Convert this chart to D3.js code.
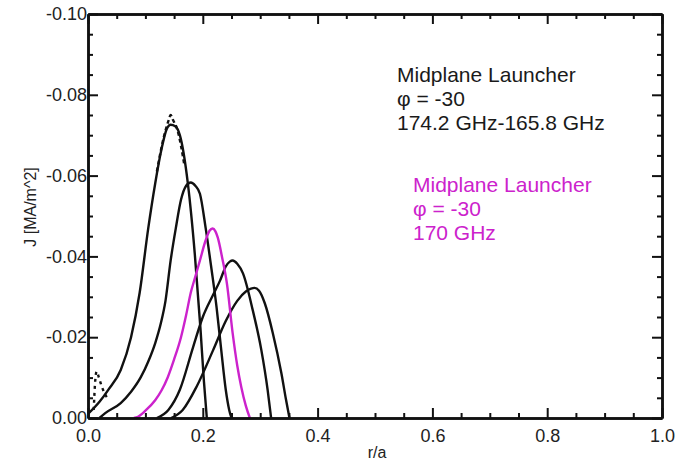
<!DOCTYPE html>
<meta charset="utf-8">
<style>
	body { margin: 0; background: #fff; font-family: "Liberation Sans", Arial, sans-serif; }
	.axis path, .axis line { fill: none; stroke: #111; }
	.axis path { stroke-width: 2.5; }
	.axis line { stroke-width: 2; }
	.axis text { fill: #222; font-size: 18px; font-family: "Liberation Sans", Arial, sans-serif; }
	.lbl { fill: #222; font-family: "Liberation Sans", Arial, sans-serif; }
</style>
<body>
<svg id="chart" width="681" height="462"></svg>

<script src="https://cdn.jsdelivr.net/npm/d3@7"></script>
<script>
	// r/a values and current density J [MA/m^2]
	var c1R = [0.000, 0.020, 0.035, 0.057, 0.075, 0.090, 0.105, 0.117, 0.128, 0.137, 0.144, 0.152, 0.160, 0.174, 0.186, 0.196, 0.202, 0.207];
	var c1J = [-0.0010, -0.0040, -0.0069, -0.0119, -0.0200, -0.0310, -0.0470, -0.0580, -0.0665, -0.0715, -0.0726, -0.0722, -0.0700, -0.0580, -0.0407, -0.0220, -0.0090, 0];

	var c2R = [0.020, 0.030, 0.057, 0.075, 0.092, 0.105, 0.117, 0.127, 0.135, 0.144, 0.153, 0.162, 0.171, 0.179, 0.187, 0.195, 0.205, 0.215, 0.224, 0.232, 0.240, 0.246, 0.250];
	var c2J = [0, -0.0012, -0.0037, -0.0065, -0.0101, -0.0140, -0.0185, -0.0235, -0.0290, -0.0390, -0.0470, -0.0540, -0.0575, -0.0583, -0.0575, -0.0555, -0.0470, -0.0370, -0.0274, -0.0170, -0.0070, -0.0020, 0];

	var c3R = [0.120, 0.140, 0.160, 0.183, 0.200, 0.218, 0.230, 0.240, 0.247, 0.252, 0.260, 0.270, 0.287, 0.302, 0.313, 0.319];
	var c3J = [0, -0.0020, -0.0070, -0.0175, -0.0250, -0.0305, -0.0340, -0.0375, -0.0387, -0.0390, -0.0382, -0.0358, -0.0267, -0.0168, -0.0069, 0];

	var c4R = [0.145, 0.165, 0.190, 0.218, 0.240, 0.260, 0.275, 0.284, 0.290, 0.298, 0.308, 0.322, 0.337, 0.345, 0.351];
	var c4J = [0, -0.0020, -0.0080, -0.0168, -0.0240, -0.0290, -0.0313, -0.0320, -0.0322, -0.0315, -0.0284, -0.0210, -0.0110, -0.0045, 0];

	// 170 GHz case (magenta)
	var magR = [0.080, 0.087, 0.100, 0.117, 0.128, 0.139, 0.150, 0.162, 0.171, 0.179, 0.187, 0.195, 0.205, 0.212, 0.217, 0.222, 0.226, 0.234, 0.242, 0.252, 0.260, 0.267, 0.275, 0.282];
	var magJ = [0, -0.0003, -0.0018, -0.0044, -0.0068, -0.0101, -0.0145, -0.0200, -0.0255, -0.0310, -0.0350, -0.0390, -0.0440, -0.0464, -0.0469, -0.0462, -0.0447, -0.0395, -0.0333, -0.0210, -0.0130, -0.0077, -0.0030, 0];

	// dashed traces
	var dPeakR = [0.120, 0.132, 0.140, 0.144, 0.148, 0.156, 0.168];
	var dPeakJ = [-0.0610, -0.0695, -0.0735, -0.0750, -0.0738, -0.0712, -0.0625];
	var dEdgeR = [0.010, 0.012, 0.015, 0.019, 0.024, 0.030, 0.036];
	var dEdgeJ = [-0.0020, -0.0080, -0.0115, -0.0100, -0.0078, -0.0058, -0.0045];

	var xMajor = [0, 0.2, 0.4, 0.6, 0.8, 1.0];
	var xMinor = [0.05, 0.1, 0.15, 0.25, 0.3, 0.35, 0.45, 0.5, 0.55, 0.65, 0.7, 0.75, 0.85, 0.9, 0.95];
	var yMajor = [0, -0.02, -0.04, -0.06, -0.08, -0.10];
	var yMinor = [-0.005, -0.01, -0.015, -0.025, -0.03, -0.035, -0.045, -0.05, -0.055, -0.065, -0.07, -0.075, -0.085, -0.09, -0.095];

	var legendBlack = ["Midplane Launcher", "\u03c6 = -30", "174.2 GHz-165.8 GHz"];
	var legendMag = ["Midplane Launcher", "\u03c6 = -30", "170 GHz"];

	var svg = d3.select("#chart"),
	margin = {top: 14, right: 19, bottom: 44, left: 88},
	width = +svg.attr("width") - margin.left - margin.right,
	height = +svg.attr("height") - margin.top - margin.bottom;

	var magenta = "#cc22cc";

	var x = d3.scaleLinear().domain([0, 1]).range([0, width]);
	var y = d3.scaleLinear().domain([0, -0.10]).range([height, 0]);

	var g = svg.append("g")
	.attr("transform", "translate(" + margin.left + "," + margin.top + ")");

	function zip(rs, js) {
		return rs.map(function(r, i) { return [r, js[i]]; });
	}

	var line = d3.line()
	.x(function(d) { return x(d[0]); })
	.y(function(d) { return y(d[1]); })
	.curve(d3.curveMonotoneX);

	var series = [
		{pts: zip(c1R, c1J), color: "#111", dash: null},
		{pts: zip(c2R, c2J), color: "#111", dash: null},
		{pts: zip(c3R, c3J), color: "#111", dash: null},
		{pts: zip(c4R, c4J), color: "#111", dash: null},
		{pts: zip(magR, magJ), color: magenta, dash: null},
		{pts: zip(dPeakR, dPeakJ), color: "#111", dash: "4,3"},
		{pts: zip(dEdgeR, dEdgeJ), color: "#111", dash: "3,4"}
	];

	g.selectAll(".curve")
	.data(series)
	.enter().append("path")
	.attr("class", "curve")
	.attr("d", function(d) { return line(d.pts); })
	.attr("fill", "none")
	.attr("stroke", function(d) { return d.color; })
	.attr("stroke-width", 2.4)
	.attr("stroke-dasharray", function(d) { return d.dash; })
	.attr("stroke-linejoin", "round");

	var fmt = function(v) { return d3.format(".2f")(v).replace("\u2212", "-"); };
	var fmtX = function(v) { return d3.format(".1f")(v); };

	// minor ticks on all four sides
	g.append("g").attr("class", "axis")
	.attr("transform", "translate(0," + height + ")")
	.call(d3.axisBottom(x).tickValues(xMinor).tickSizeInner(-5).tickSizeOuter(0).tickFormat(""));
	g.append("g").attr("class", "axis")
	.call(d3.axisTop(x).tickValues(xMinor).tickSizeInner(-5).tickSizeOuter(0).tickFormat(""));
	g.append("g").attr("class", "axis")
	.call(d3.axisLeft(y).tickValues(yMinor).tickSizeInner(-5).tickSizeOuter(0).tickFormat(""));
	g.append("g").attr("class", "axis")
	.attr("transform", "translate(" + width + ",0)")
	.call(d3.axisRight(y).tickValues(yMinor).tickSizeInner(-5).tickSizeOuter(0).tickFormat(""));

	// major ticks
	g.append("g").attr("class", "axis")
	.attr("transform", "translate(0," + height + ")")
	.call(d3.axisBottom(x).tickValues(xMajor).tickSizeInner(-10).tickSizeOuter(0).tickPadding(11).tickFormat(fmtX));
	g.append("g").attr("class", "axis")
	.call(d3.axisTop(x).tickValues(xMajor).tickSizeInner(-10).tickSizeOuter(0).tickFormat(""));
	g.append("g").attr("class", "axis")
	.call(d3.axisLeft(y).tickValues(yMajor).tickSizeInner(-10).tickSizeOuter(0).tickPadding(1).tickFormat(fmt));
	g.append("g").attr("class", "axis")
	.attr("transform", "translate(" + width + ",0)")
	.call(d3.axisRight(y).tickValues(yMajor).tickSizeInner(-10).tickSizeOuter(0).tickFormat(""));

	// axis titles
	svg.append("text").attr("class", "lbl")
	.attr("x", 377).attr("y", 458)
	.attr("text-anchor", "middle")
	.style("font-size", "16px")
	.text("r/a");

	svg.append("text").attr("class", "lbl")
	.attr("transform", "translate(36,207) rotate(-90)")
	.attr("text-anchor", "middle")
	.style("font-size", "16px")
	.text("J [MA/m^2]");

	// annotations
	svg.append("g").selectAll("text")
	.data(legendBlack)
	.enter().append("text").attr("class", "lbl")
	.attr("x", 397)
	.attr("y", function(d, i) { return 82 + i * 24; })
	.style("font-size", "21px")
	.style("fill", "#1a1a1a")
	.text(function(d) { return d; });

	svg.append("g").selectAll("text")
	.data(legendMag)
	.enter().append("text").attr("class", "lbl")
	.attr("x", 413)
	.attr("y", function(d, i) { return 192 + i * 24; })
	.style("font-size", "21px")
	.style("fill", magenta)
	.text(function(d) { return d; });
</script>
</body>
